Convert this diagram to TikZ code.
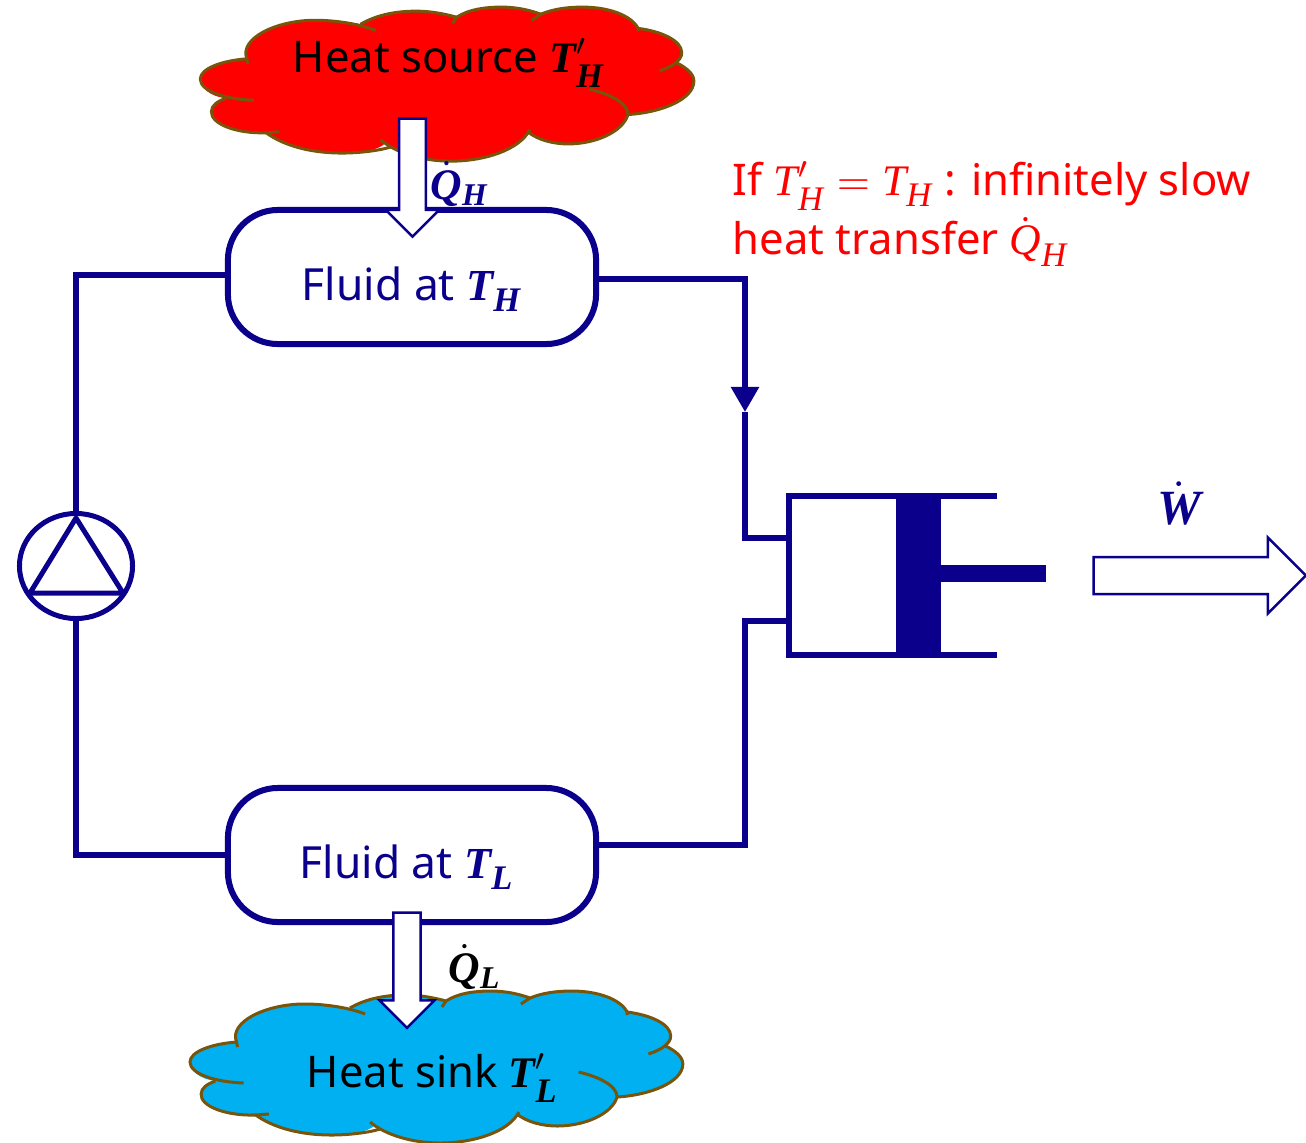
\RequirePackage{fix-cm}
\documentclass[tikz,border=0pt]{standalone}
\usepackage{fontspec}
\setmainfont{Noto Sans}
\newfontfamily\varfont{Liberation Serif}
\usepackage{amsmath}
\usepackage{bm}
\usepackage{xcolor}
\usepackage{tikz}
\usetikzlibrary{arrows.meta, shapes.geometric, shapes.arrows, positioning}
\definecolor{pipeblue}{RGB}{10,0,140}
\definecolor{cloudline}{RGB}{120,85,10}
\definecolor{sinkblue}{RGB}{0,176,240}

% Variables in serif italic, bold or plain, with their lowered subscripts
\newcommand{\bvar}[1]{\text{\varfont\bfseries\itshape #1}}
\newcommand{\pvar}[1]{\text{\varfont\itshape #1}}
\newcommand{\bsub}[1]{\raisebox{-1.3pt}{\fontsize{9.8}{10}\selectfont\varfont\bfseries\itshape #1}}
\newcommand{\psub}[1]{\raisebox{-1.3pt}{\fontsize{9.8}{10}\selectfont\varfont\itshape #1}}
\newcommand{\qsub}[1]{\mbox{\fontsize{9}{10}\selectfont\varfont\bfseries\itshape #1}}
% Dot held close above a capital
\newcommand{\dvar}[1]{\dot{\smash{#1}\rule{0pt}{.62em}}}

% One cloud outline with its inner tails, in reference pixels
\newcommand{\cloudblob}[1]{
    \fill[#1] (246,58) .. controls (238,38) and (275,20) .. (313,20) .. controls (330,20) and (345,21) .. (358,24)
        .. controls (375,14) and (395,11) .. (413,11) .. controls (428,11) and (442,14) .. (453,17)
        .. controls (465,9) and (482,7) .. (497,7) .. controls (512,7) and (525,10) .. (536,14)
        .. controls (548,9) and (562,7) .. (577,7) .. controls (603,7) and (625,15) .. (632,28)
        .. controls (655,31) and (675,40) .. (675,52) .. controls (675,56) and (673,59) .. (670,62)
        .. controls (680,67) and (687,73) .. (687,80) .. controls (687,98) and (655,111) .. (622,113)
        .. controls (617,130) and (590,142) .. (563,142) .. controls (548,142) and (533,138) .. (523,130)
        .. controls (515,148) and (480,159) .. (447,159) .. controls (420,159) and (398,151) .. (383,141)
        .. controls (375,149) and (355,151) .. (340,151) .. controls (305,151) and (280,142) .. (265,131)
        .. controls (235,132) and (210,122) .. (211,110) .. controls (211,104) and (217,100) .. (225,97)
        .. controls (210,95) and (200,87) .. (200,78) .. controls (200,68) and (220,60) .. (246,58) -- cycle;
    \draw[cloudedge] (247,63) -- (246,58) .. controls (238,38) and (275,20) .. (313,20) .. controls (335,20) and (358,24) .. (373,30);
    \draw[cloudedge] (358,24) .. controls (375,14) and (395,11) .. (413,11) .. controls (428,11) and (442,14) .. (453,17) -- (449,23);
    \draw[cloudedge] (453,17) .. controls (465,9) and (482,7) .. (497,7) .. controls (512,7) and (525,10) .. (536,14) -- (527,20);
    \draw[cloudedge] (536,14) .. controls (548,9) and (562,7) .. (577,7) .. controls (603,7) and (625,15) .. (632,28) -- (632,31);
    \draw[cloudedge] (632,28) .. controls (655,31) and (675,40) .. (675,52) .. controls (675,60) and (665,66) .. (653,70);
    \draw[cloudedge] (670,62) .. controls (680,67) and (687,73) .. (687,80) .. controls (687,98) and (655,111) .. (622,113);
    \draw[cloudedge] (584,88) .. controls (605,93) and (622,102) .. (622,113) .. controls (617,130) and (590,142) .. (563,142) .. controls (548,142) and (533,138) .. (523,130);
    \draw[cloudedge] (525,128) .. controls (515,148) and (480,159) .. (447,159) .. controls (420,159) and (393,151) .. (378,138);
    \draw[cloudedge] (388,145) .. controls (375,149) and (355,151) .. (340,151) .. controls (305,151) and (280,142) .. (265,131) -- (278,130);
    \draw[cloudedge] (265,131) .. controls (235,132) and (210,122) .. (211,110) .. controls (211,104) and (217,100) .. (225,97);
    \draw[cloudedge] (253,99) .. controls (225,98) and (200,90) .. (200,78) .. controls (200,68) and (220,60) .. (246,58);
}

\begin{document}
\begin{tikzpicture}[
    x=0.01cm, y=-0.01cm,
    pipe/.style={draw=pipeblue, line width=0.055cm},
    fluidbox/.style={draw=pipeblue, line width=0.06cm, rounded corners=0.5cm, minimum width=3.68cm, minimum height=1.34cm, inner sep=0, text=pipeblue, text height=0.46cm, text depth=0cm, font=\fontsize{12.6}{15}\selectfont},
    heatarrow/.style={draw=pipeblue, line width=0.025cm, fill=white, single arrow, inner sep=0, outer sep=0, text width=0cm},
    cloudedge/.style={draw=cloudline, line width=0.03cm},
    cloudtext/.style={font=\fontsize{12.4}{15}\selectfont, inner sep=0},
    qlabel/.style={font=\fontsize{12.4}{15}\selectfont, inner sep=0, anchor=base west}
]
    \useasboundingbox (0,0) rectangle (1306,1142);

    % Heat source and sink
    \begin{scope}[shift={(-2.4,0)}, scale=1.0135]
        \cloudblob{red}
    \end{scope}
    \begin{scope}[shift={(-12.4,984)}, xscale=1.012]
        \cloudblob{sinkblue}
    \end{scope}
    \node[cloudtext, anchor=base west] (source) at (292,72) {Heat source $\bvar{T}'_{\bsub{H}}$};
    \node[cloudtext, anchor=base west] (sink) at (306,1087) {Heat sink $\bvar{T}'_{\bsub{L}}$};

    % Fluid boxes
    \node[fluidbox] (fluidH) at (412,277) {Fluid at $\bvar{T}_{\bsub{H}}$};
    \node[fluidbox] (fluidL) at (412,855) {\hspace*{-0.1cm}Fluid at $\bvar{T}_{\bsub{L}}$};

    % Pump
    \node[ellipse, draw=pipeblue, line width=0.05cm, minimum width=1.13cm, minimum height=1.05cm, inner sep=0] (pump) at (76,566) {};
    \draw[pipe, line width=0.05cm, line join=round] (76,518) -- (123,593) -- (30,593) -- cycle;

    % Cylinder and piston
    \coordinate (portin) at (789,538);
    \coordinate (portout) at (789,621);
    \coordinate (elbow) at (745,412);
    \draw[draw=pipeblue, line width=0.06cm] (997,496) -- (789,496) -- (789,655) -- (997,655);
    \fill[pipeblue] (896,496) rectangle (941,655);
    \fill[pipeblue] (941,565) rectangle (1046,582);

    % Pipes
    \draw[pipe] (fluidH.west |- 0,275) -- (76,275) -- (pump.north);
    \draw[pipe] (fluidL.west) -- (76,855) -- (pump.south);
    \draw[pipe, -{Triangle[width=0.27cm, length=0.25cm]}] (fluidH.east |- 0,279) -| (elbow);
    \draw[pipe] (elbow) |- (portin);
    \draw[pipe] (fluidL.east |- 0,845) -| (745,621) -- (portout);

    % Heat and work arrows
    \node[heatarrow, rotate=-90, text height=0.24cm, text depth=0cm, minimum height=1.18cm, single arrow head extend=0.135cm] (arrowQH) at (412.5,171) {};
    \node[heatarrow, rotate=-90, text height=0.245cm, text depth=0cm, minimum height=1.15cm, single arrow head extend=0.14cm] (arrowQL) at (407,963.5) {};
    \node[heatarrow, text height=0.345cm, text depth=0cm, minimum height=2.12cm, single arrow head extend=0.195cm] (arrowW) at (1190.5,575.5) {};

    % Labels
    \node[qlabel, text=pipeblue] (labelQH) at (430,199) {$\dvar{\bvar{Q}}_{\qsub{H}}$};
    \node[qlabel, text=black] (labelQL) at (448,982) {$\dvar{\bvar{Q}}_{\qsub{L}}$};
    \node[qlabel, text=pipeblue, font=\fontsize{14}{17}\selectfont] (labelW) at (1157,524) {$\dvar{\bvar{W}}$};

    % Note
    \node[anchor=north west, align=left, text=red, inner sep=0, font=\fontsize{12.4}{17}\selectfont] (note) at (732,161) {If $\pvar{T}'_{\psub{H}} = \pvar{T}_{\psub{H}}$ : infinitely slow\\heat transfer $\dvar{\pvar{Q}}_{\psub{H}}$};
\end{tikzpicture}
\end{document}
